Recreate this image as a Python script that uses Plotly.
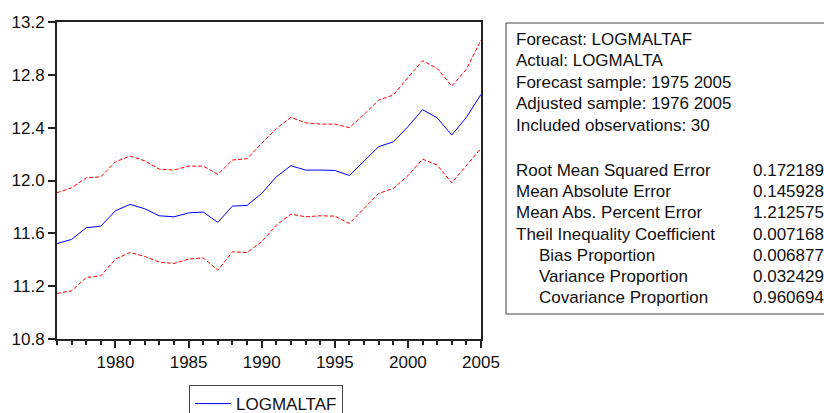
import plotly.graph_objects as go

# Forecast of LOGMALTA with +/- 2 S.E. bands
years = list(range(1976, 2006))

forecast = [11.523, 11.554, 11.642, 11.655, 11.771, 11.819, 11.786, 11.733, 11.725, 11.755,
            11.761, 11.683, 11.806, 11.811, 11.902, 12.028, 12.112, 12.079, 12.079, 12.076,
            12.038, 12.147, 12.256, 12.293, 12.407, 12.536, 12.475, 12.344, 12.478, 12.652]

upper = [11.907, 11.945, 12.020, 12.028, 12.142, 12.185, 12.149, 12.086, 12.079, 12.109,
         12.109, 12.046, 12.155, 12.165, 12.281, 12.394, 12.478, 12.437, 12.427, 12.427,
         12.400, 12.500, 12.609, 12.647, 12.778, 12.907, 12.849, 12.715, 12.842, 13.064]

lower = [11.145, 11.165, 11.266, 11.278, 11.405, 11.455, 11.425, 11.382, 11.372, 11.405,
         11.414, 11.321, 11.460, 11.455, 11.536, 11.662, 11.745, 11.725, 11.733, 11.730,
         11.675, 11.789, 11.902, 11.940, 12.036, 12.162, 12.117, 11.983, 12.112, 12.243]

y_ticks = [10.8, 11.2, 11.6, 12.0, 12.4, 12.8, 13.2]
x_ticks = [1980, 1985, 1990, 1995, 2000, 2005]

header_lines = [
    "Forecast: LOGMALTAF",
    "Actual: LOGMALTA",
    "Forecast sample: 1975 2005",
    "Adjusted sample: 1976 2005",
    "Included observations: 30",
]
stat_names = [
    "Root Mean Squared Error",
    "Mean Absolute Error",
    "Mean Abs. Percent Error",
    "Theil Inequality Coefficient",
    "Bias Proportion",
    "Variance Proportion",
    "Covariance Proportion",
]
stat_indented = [False, False, False, False, True, True, True]
stat_values = ["0.172189", "0.145928", "1.212575", "0.007168", "0.006877", "0.032429", "0.960694"]

W, H = 824, 413
L, R, T, B = 57, 481, 22, 339


def px(x):
    return (x - L) / (R - L)


def py(y):
    return (B - y) / (B - T)


FONT = "Liberation Sans, Arial, sans-serif"
FS = 17

fig = go.Figure()
band_style = dict(color="#FF0000", width=1, dash="4px,2px")
fig.add_trace(go.Scatter(x=years, y=upper, mode="lines", line=band_style,
                         showlegend=False, hoverinfo="skip"))
fig.add_trace(go.Scatter(x=years, y=lower, mode="lines", line=band_style,
                         showlegend=False, hoverinfo="skip"))
fig.add_trace(go.Scatter(x=years, y=forecast, mode="lines", name="LOGMALTAF",
                         line=dict(color="#0000FF", width=1)))

axis_common = dict(showgrid=False, zeroline=False, showline=True, linecolor="#222222",
                   linewidth=2, mirror=True, ticks="outside", tickcolor="#222222",
                   tickfont=dict(family=FONT, size=FS, color="#111111"))

fig.update_xaxes(range=[1976, 2005], tickvals=x_ticks, ticklen=7, tickwidth=1.5,
                 minor=dict(dtick=1, tick0=1976, ticks="outside", ticklen=4,
                            tickcolor="#222222", tickwidth=1.5, showgrid=False),
                 **axis_common)
fig.update_yaxes(range=[10.8, 13.2], tickvals=y_ticks, tickformat=".1f", ticklen=7,
                 tickwidth=1.5, **axis_common)

# Statistics box
fig.add_shape(type="rect", xref="paper", yref="paper",
              x0=px(506), x1=px(840), y0=py(314), y1=py(23),
              line=dict(color="#444444", width=1), fillcolor="rgba(0,0,0,0)")

text_font = dict(family=FONT, size=FS, color="#111111")
for i, line in enumerate(header_lines):
    fig.add_annotation(xref="paper", yref="paper", x=px(514), y=py(39 + i * 21.5),
                       text=line, showarrow=False, xanchor="left", yanchor="middle",
                       font=text_font)
for i, (name, ind, val) in enumerate(zip(stat_names, stat_indented, stat_values)):
    yy = py(170.5 + i * 21.2)
    fig.add_annotation(xref="paper", yref="paper", x=px(537 if ind else 514), y=yy,
                       text=name, showarrow=False, xanchor="left", yanchor="middle",
                       font=text_font)
    fig.add_annotation(xref="paper", yref="paper", x=px(751), y=yy,
                       text=val, showarrow=False, xanchor="left", yanchor="middle",
                       font=text_font)

fig.update_layout(
    width=W, height=H,
    margin=dict(l=L, r=W - R, t=T, b=H - B, pad=0, autoexpand=False),
    paper_bgcolor="white", plot_bgcolor="white",
    showlegend=True,
    legend=dict(x=px(189), y=py(385), xanchor="left", yanchor="top",
                bordercolor="#444444", borderwidth=1, bgcolor="white", itemwidth=36,
                font=dict(family=FONT, size=FS, color="#111111")),
    font=dict(family=FONT),
)

fig.write_html("out.html")
